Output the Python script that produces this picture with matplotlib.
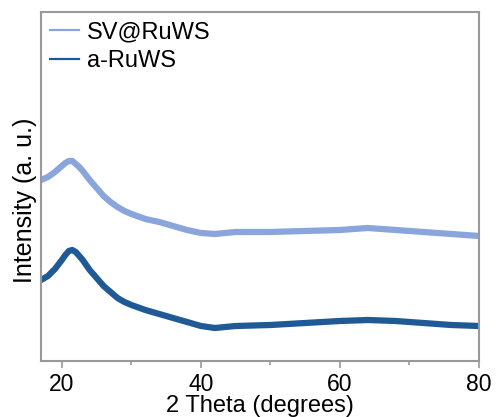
import matplotlib
matplotlib.use("Agg")
import matplotlib.pyplot as plt

plt.rcParams['font.family'] = ['Liberation Sans', 'DejaVu Sans']

two_theta = [17, 18, 19, 20, 20.5, 21, 21.5, 22, 22.5, 23, 24, 25, 26, 27, 28, 29, 30, 32, 34, 36, 38, 40,
             42, 45, 50, 55, 60, 64, 68, 72, 76, 80]
sv_ruws = [181, 184, 189, 195, 198, 200, 200, 197, 194, 190, 181, 173, 165, 159, 154, 150, 147, 142, 139, 135, 131, 128,
           127, 129, 129, 130, 131, 133, 131, 129, 127, 125]
a_ruws = [81, 85, 92, 101, 106, 110, 111, 109, 105, 101, 91, 83, 75, 69, 63, 59, 56, 51, 47, 43, 39, 35,
          33, 35, 36, 38, 40, 41, 40, 38, 36, 35]

fig = plt.figure(figsize=(4.96, 4.17), dpi=100)
ax = fig.add_axes([0.0827, 0.1343, 0.883, 0.837])

ax.plot(two_theta, sv_ruws, color='#8aa5dc', lw=4.5, label='SV@RuWS', solid_joinstyle='round')
ax.plot(two_theta, a_ruws, color='#1f5a96', lw=4.5, label='a-RuWS', solid_joinstyle='round')

ax.set_xlim(17, 80)
ax.set_ylim(0, 349)
ax.set_xticks([20, 40, 60, 80])
ax.set_xticks([30, 50, 70], minor=True)
ax.set_yticks([])
ax.tick_params(axis='x', which='major', direction='out', length=5, width=1.2, color='#999999', labelsize=16.5, pad=4)
ax.tick_params(axis='x', which='minor', direction='out', length=3, width=1.2, color='#999999')
for s in ax.spines.values():
    s.set_color('#999999')
    s.set_linewidth(1.5)

ax.set_xlabel('2 Theta (degrees)', fontsize=17)
ax.xaxis.set_label_coords(0.5, -0.097)
ax.set_ylabel('Intensity (a. u.)', fontsize=18)
ax.yaxis.set_label_coords(-0.037, 0.461)
ax.yaxis.label.set_va('center')

leg = ax.legend(loc='upper left', frameon=False, fontsize=17, handlelength=1.23,
                handletextpad=0.34, labelspacing=0.31, borderaxespad=0.1, borderpad=0.28)
for l in leg.get_lines():
    l.set_linewidth(1.6)

fig.savefig('out.png', dpi=100)
